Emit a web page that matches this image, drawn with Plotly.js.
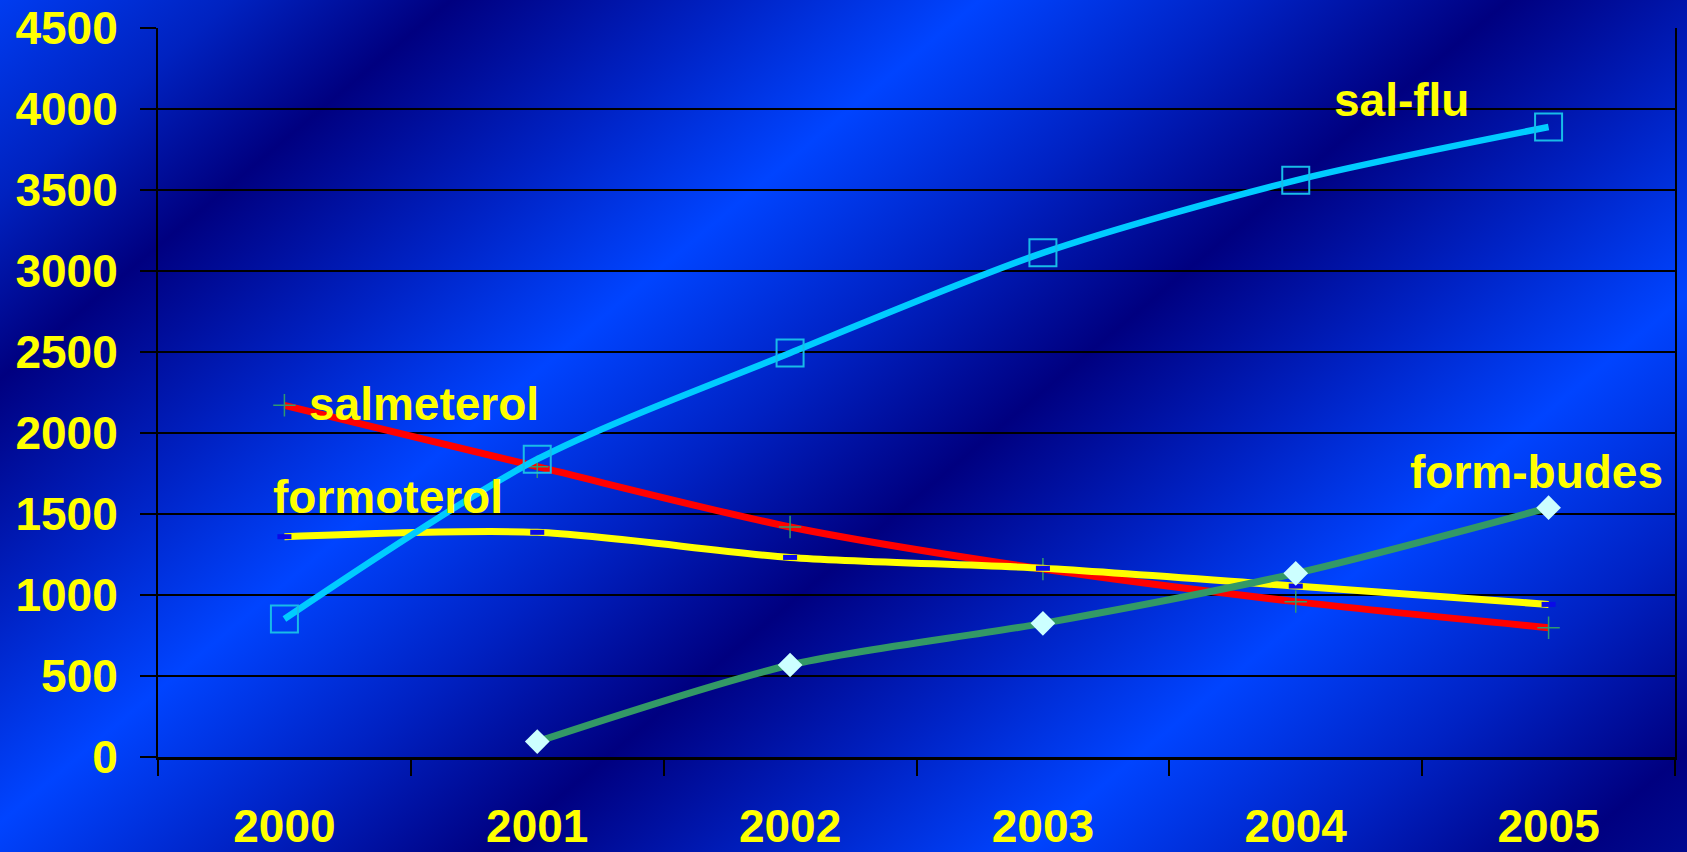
<!DOCTYPE html>
<html>
<head>
<meta charset="utf-8">
<script src="https://cdn.plot.ly/plotly-3.0.1.min.js"></script>
<style>
  html, body { margin: 0; padding: 0; }
  #chart {
    width: 1687px; height: 852px;
    background: linear-gradient(140deg,
      #003cf0 0px, #0022c0 150px, #000080 290px, #0022c4 470px, #0044ff 630px,
      #0022c4 800px, #000080 970px, #0022c4 1150px, #0044ff 1310px,
      #0022c4 1490px, #000080 1660px, #000a90 1737px);
  }
</style>
</head>
<body>
<div id="chart"></div>
<script>
const years = ['2000', '2001', '2002', '2003', '2004', '2005'];
const salFlu = [852, 1838, 2494, 3112, 3560, 3889];
const salmeterol = [2171, 1792, 1420, 1160, 959, 798];
const formoterol = [1360, 1387, 1232, 1165, 1055, 942];
const formBudes = [null, 95, 568, 825, 1134, 1539];
const yTicks = [0, 500, 1000, 1500, 2000, 2500, 3000, 3500, 4000, 4500];

const labelNames = ['salmeterol', 'formoterol', 'sal-flu', 'form-budes'];
const labelX = [0.554, 0.408, 4.417, 4.953];
const labelY = [2179, 1605, 4055, 1759];

const FONT = 'Liberation Sans, Arial, sans-serif';

const traces = [
  {
    x: years, y: salmeterol, name: 'salmeterol', mode: 'lines+markers',
    line: {color: '#FF0000', width: 7, shape: 'spline', smoothing: 0.8},
    marker: {symbol: 'cross-thin-open', size: 16, color: '#2f9a6e', line: {color: '#2f9a6e', width: 1.5}}
  },
  {
    x: years, y: formoterol, name: 'formoterol', mode: 'lines+markers',
    line: {color: '#FFFF00', width: 7, shape: 'spline', smoothing: 0.8},
    marker: {symbol: 'line-ew-open', size: 10, color: '#0a0ae8', line: {color: '#0a0ae8', width: 5}}
  },
  {
    x: years, y: formBudes, name: 'form-budes', mode: 'lines+markers',
    line: {color: '#339966', width: 7, shape: 'spline', smoothing: 0.8},
    marker: {symbol: 'diamond', size: 19, color: '#CCFFFF', line: {width: 0}}
  },
  {
    x: years, y: salFlu, name: 'sal-flu', mode: 'lines+markers',
    line: {color: '#00CCFF', width: 6.5, shape: 'spline', smoothing: 0.8},
    marker: {symbol: 'square-open', size: 27, color: '#18bce8', line: {color: '#18bce8', width: 2}}
  }
];

const annotations = labelNames.map((t, i) => ({
  x: labelX[i], y: labelY[i], xref: 'x', yref: 'y', text: t, showarrow: false,
  xanchor: 'center', yanchor: 'middle',
  font: {family: FONT, size: 46, color: '#FFFF00', weight: 700}
}));

const layout = {
  width: 1687, height: 852,
  margin: {l: 158, r: 12, t: 28, b: 95},
  paper_bgcolor: 'rgba(0,0,0,0)',
  plot_bgcolor: 'rgba(0,0,0,0)',
  showlegend: false,
  xaxis: {
    type: 'category', range: [-0.5, 5.5], automargin: false,
    showgrid: false, zeroline: false,
    showline: true, linecolor: '#000000', linewidth: 3,
    ticks: 'outside', tickson: 'boundaries', ticklen: 16, tickwidth: 2, tickcolor: '#000000',
    ticklabelstandoff: 27,
    tickfont: {family: FONT, size: 46, color: '#FFFF00', weight: 700}
  },
  yaxis: {
    range: [0, 4500], automargin: false,
    tickvals: yTicks, ticktext: yTicks.map(String),
    showgrid: true, gridcolor: '#000000', gridwidth: 2, zeroline: false,
    showline: true, linecolor: '#000000', linewidth: 2, mirror: true,
    ticks: 'outside', ticklen: 16, tickwidth: 2, tickcolor: '#000000',
    ticklabelstandoff: 13,
    tickfont: {family: FONT, size: 46, color: '#FFFF00', weight: 700}
  },
  annotations: annotations
};

Plotly.newPlot('chart', traces, layout, {displayModeBar: false, staticPlot: true});
</script>
</body>
</html>
